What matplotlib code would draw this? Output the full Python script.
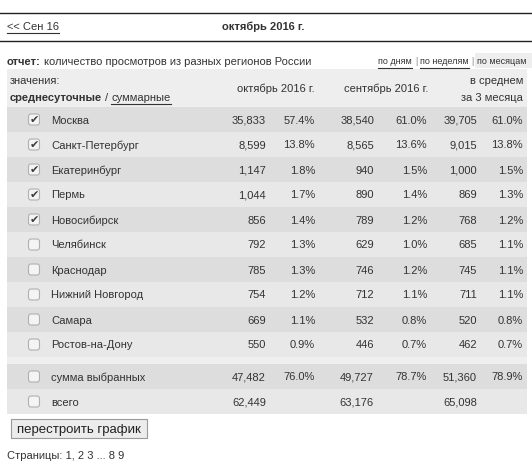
import matplotlib
matplotlib.use("Agg")
import matplotlib.pyplot as plt
from matplotlib.patches import Rectangle, FancyBboxPatch

W, H = 532, 462

regions = ["Москва", "Санкт-Петербург", "Екатеринбург", "Пермь", "Новосибирск",
           "Челябинск", "Краснодар", "Нижний Новгород", "Самара", "Ростов-на-Дону"]
checked = [True, True, True, True, True, False, False, False, False, False]
oct_vals = [35833, 8599, 1147, 1044, 856, 792, 785, 754, 669, 550]
oct_pct = [57.4, 13.8, 1.8, 1.7, 1.4, 1.3, 1.3, 1.2, 1.1, 0.9]
sep_vals = [38540, 8565, 940, 890, 789, 629, 746, 712, 532, 446]
sep_pct = [61.0, 13.6, 1.5, 1.4, 1.2, 1.0, 1.2, 1.1, 0.8, 0.7]
avg_vals = [39705, 9015, 1000, 869, 768, 685, 745, 711, 520, 462]
avg_pct = [61.0, 13.8, 1.5, 1.3, 1.2, 1.1, 1.1, 1.1, 0.8, 0.7]

sum_vals = [47482, 49727, 51360]
sum_pct = [76.0, 78.7, 78.9]
total_vals = [62449, 63176, 65098]

col_labels = ["октябрь 2016 г.", "сентябрь 2016 г."]

FONT = "Liberation Sans"
TXT = "#333333"

fig = plt.figure(figsize=(W / 100, H / 100), dpi=100)
ax = fig.add_axes([0, 0, 1, 1])
ax.set_xlim(0, W)
ax.set_ylim(H, 0)
ax.axis("off")
fig.canvas.draw()
renderer = fig.canvas.get_renderer()


def put(x, y, s, size=8, weight="normal", color=TXT, ha="left", underline=False):
    # matplotlib centres on the full bbox, nudge down to match the browser baseline
    t = ax.text(x, y + 1, s, fontsize=size, fontweight=weight, color=color, ha=ha,
                va="center", family=FONT)
    bb = t.get_window_extent(renderer).transformed(ax.transData.inverted())
    x0, x1 = min(bb.x0, bb.x1), max(bb.x0, bb.x1)
    if underline:
        ax.plot([x0, x1], [y + 6.5, y + 6.5], color=color, lw=0.8)
    return x1


def checkbox(x, y, on):
    ax.add_patch(FancyBboxPatch((x - 5, y - 5), 10, 10,
                                boxstyle="round,pad=0.5,rounding_size=2.5",
                                fc="#f4f4f4", ec="#b0b0b0", lw=0.8))
    if on:
        ax.text(x, y + 0.5, "\u2714", fontsize=8, color="#3a3a3a", ha="center",
                va="center", family="DejaVu Sans")


# top bar
ax.plot([0, W], [12.5, 12.5], color="#222222", lw=1)
ax.plot([0, W], [40.5, 40.5], color="#222222", lw=1)
put(7, 26, "<< Сен 16", underline=True)
put(263, 26, "октябрь 2016 г.", weight="bold", ha="center")

# report line
x = put(7, 61, "отчет:", weight="bold")
put(x + 3, 61, "количество просмотров из разных регионов России")
ax.add_patch(Rectangle((475, 53), 57, 15, fc="#eeeeee", ec="none"))
x = put(378, 61, "по дням", size=6.5, underline=True)
x = put(x + 3, 61, "|", size=6.5, color="#888888")
x = put(x + 3, 61, "по неделям", size=6.5, underline=True)
x = put(x + 3, 61, "|", size=6.5, color="#888888")
put(x + 3, 61, "по месяцам", size=6.5)

# header band
ax.add_patch(Rectangle((7, 69), 520, 38, fc="#eeeeee", ec="none"))
put(10, 80, "значения:")
x = put(10, 97, "среднесуточные", weight="bold")
x = put(x + 3, 97, "/")
put(x + 3, 97, "суммарные", underline=True)
put(276, 88, col_labels[0], ha="center")
put(386, 88, col_labels[1], ha="center")
put(523, 80, "в среднем", ha="right")
put(523, 97, "за 3 месяца", ha="right")

# column right edges
cols = [266, 315, 374, 427, 477, 523]
row_h = 25
y0 = 107
for i, name in enumerate(regions):
    top = y0 + i * row_h
    yc = top + row_h / 2
    ax.add_patch(Rectangle((7, top), 520, row_h,
                           fc="#dddddd" if i % 2 == 0 else "#e8e8e8", ec="none"))
    checkbox(34, yc, checked[i])
    put(51, yc, name)
    cells = [f"{oct_vals[i]:,}", f"{oct_pct[i]:.1f}%", f"{sep_vals[i]:,}",
             f"{sep_pct[i]:.1f}%", f"{avg_vals[i]:,}", f"{avg_pct[i]:.1f}%"]
    for cx, s in zip(cols, cells):
        put(cx, yc, s, ha="right")

# gap + summary rows
gap_top = y0 + len(regions) * row_h
ax.add_patch(Rectangle((7, gap_top), 520, 7, fc="#efefef", ec="none"))
sum_top = gap_top + 7
ax.add_patch(Rectangle((7, sum_top), 520, row_h, fc="#dddddd", ec="none"))
ax.add_patch(Rectangle((7, sum_top + row_h), 520, row_h, fc="#e8e8e8", ec="none"))

yc = sum_top + row_h / 2
checkbox(34, yc, False)
put(51, yc, "сумма выбранных")
for k in range(3):
    put(cols[2 * k], yc, f"{sum_vals[k]:,}", ha="right")
    put(cols[2 * k + 1], yc, f"{sum_pct[k]:.1f}%", ha="right")

yc = sum_top + row_h * 1.5
checkbox(34, yc, False)
put(51, yc, "всего")
for k in range(3):
    put(cols[2 * k], yc, f"{total_vals[k]:,}", ha="right")

# button
ax.add_patch(Rectangle((10.5, 418.5), 136, 19, fc="#ececec", ec="#9a9a9a", lw=0.8))
put(78.5, 428.5, "перестроить график", size=9.5, color="#222222", ha="center")

# pager
put(7, 455, "Страницы: 1, 2 3 ... 8 9")

fig.savefig("out.png", dpi=100)
